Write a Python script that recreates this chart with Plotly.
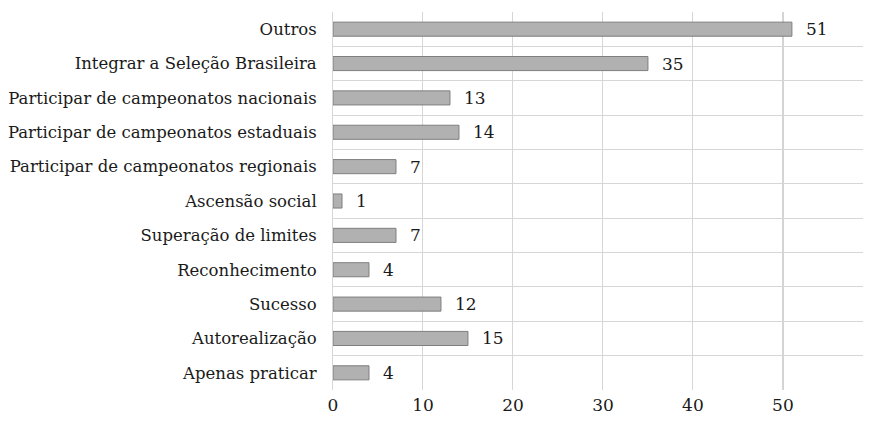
import plotly.graph_objects as go

categories = [
    "Outros",
    "Integrar a Seleção Brasileira",
    "Participar de campeonatos nacionais",
    "Participar de campeonatos estaduais",
    "Participar de campeonatos regionais",
    "Ascensão social",
    "Superação de limites",
    "Reconhecimento",
    "Sucesso",
    "Autorealização",
    "Apenas praticar",
]
values = [51, 35, 13, 14, 7, 1, 7, 4, 12, 15, 4]
x_ticks = [0, 10, 20, 30, 40, 50]

FONT = "DejaVu Serif"
FS_CAT = 16.5
FS_NUM = 17
idx = list(range(len(categories)))

fig = go.Figure()
fig.add_trace(go.Bar(
    x=values, y=idx, orientation="h",
    marker=dict(color="#b1b1b1", line=dict(color="#7f7f7f", width=1)),
    width=0.41, hoverinfo="skip",
))

for i, v in zip(idx, values):
    fig.add_annotation(x=v, y=i, text=str(v), showarrow=False,
                       xanchor="left", xshift=12,
                       font=dict(family=FONT, size=FS_NUM, color="#1a1a1a"))

grid_col = "#d6d6d6"
fig.add_shape(type="line", xref="x", yref="paper", x0=x_ticks[-1], x1=x_ticks[-1],
              y0=0, y1=1, line=dict(color="#bdbdbd", width=1.5), layer="below")

fig.update_layout(
    width=855, height=406,
    margin=dict(l=325, r=0, t=4, b=24),
    paper_bgcolor="white", plot_bgcolor="white",
    showlegend=False,
    font=dict(family=FONT, size=FS_NUM, color="#1a1a1a"),
    xaxis=dict(range=[0, 58.9], tickvals=x_ticks, showgrid=True, gridcolor=grid_col,
               gridwidth=1, zeroline=False, showline=False, ticks="",
               ticklabelstandoff=3, automargin=False,
               tickfont=dict(family=FONT, size=FS_NUM), fixedrange=True),
    yaxis=dict(range=[len(categories) - 0.5, -0.5], tickvals=idx, ticktext=categories,
               showgrid=False, zeroline=False, showline=True, linecolor=grid_col,
               ticks="", ticklabelstandoff=12, automargin=False,
               tickfont=dict(family=FONT, size=FS_CAT),
               minor=dict(tickvals=[i - 0.5 for i in range(len(categories) + 1)],
                          showgrid=True, gridcolor=grid_col, gridwidth=1, ticks=""),
               fixedrange=True),
)

fig.write_html("out.html")
